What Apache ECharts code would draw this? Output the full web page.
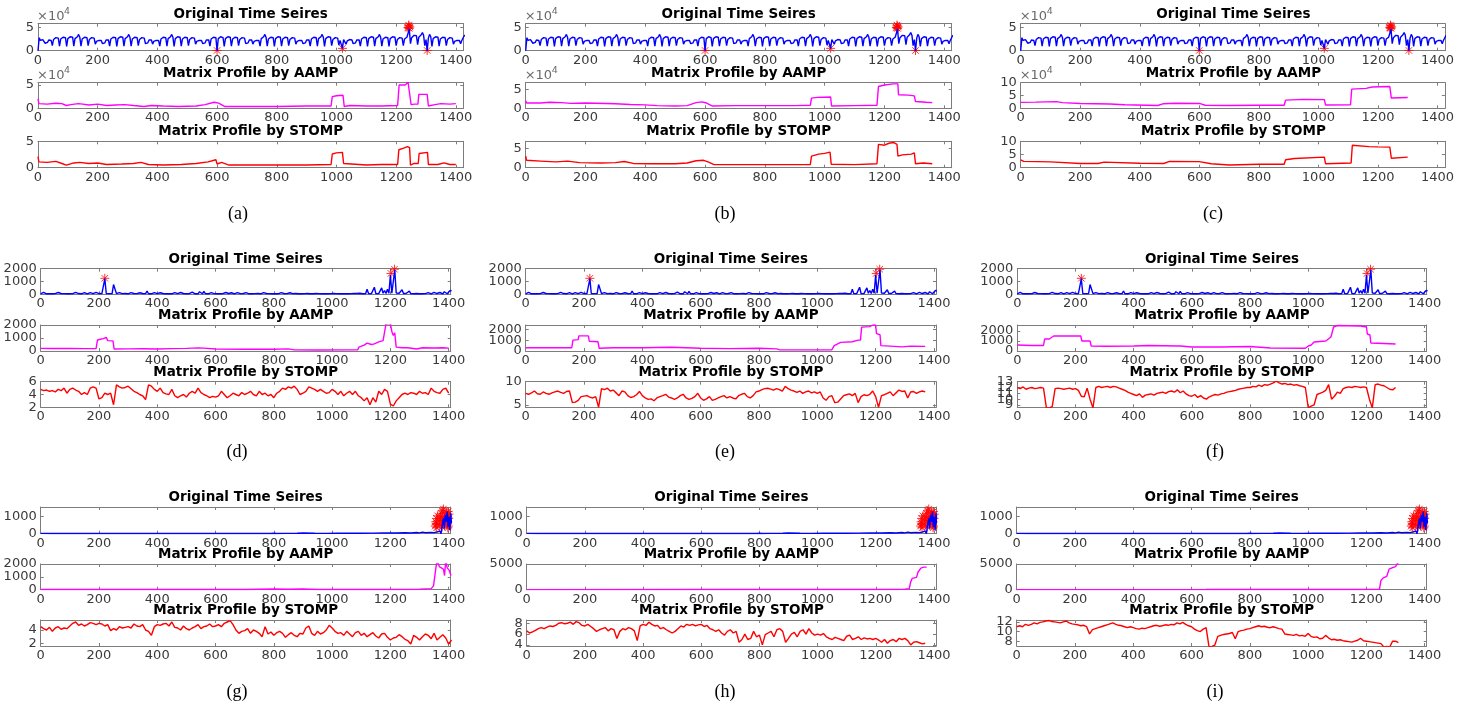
<!DOCTYPE html>
<html>
<head>
<meta charset="utf-8">
<script src="https://cdn.jsdelivr.net/npm/echarts@6/dist/echarts.min.js"></script>
<style>
html, body { margin: 0; padding: 0; background: #fff; }
#chart { width: 1457px; height: 704px; }
</style>
</head>
<body>
<div id="chart"></div>
<script>
// ---------- shared tick values ----------
const X_TICKS = [0, 200, 400, 600, 800, 1000, 1200, 1400];

// ---------- row 1: taxi-like series (units of 1e4), one value every 4 samples, 6 per day ----------
const taxiStep = 4;
const taxiValues = [
  0.0,2.8,2.2,2.0,2.4,2.1,  1.6,2.0,1.8,2.3,2.6,2.2,  1.1,2.4,2.1,2.8,3.2,2.7,  1.0,2.5,2.2,2.9,3.3,2.8,
  0.9,2.6,2.3,3.0,3.4,2.9,  1.0,2.6,2.2,3.0,3.5,2.9,  1.0,2.5,2.2,2.9,3.3,2.8,  1.1,2.4,2.1,2.8,3.2,2.7,
  1.4,2.0,1.8,2.2,2.5,2.2,  1.5,1.9,1.7,2.3,2.6,2.3,  1.0,2.5,2.2,2.9,3.3,2.8,  0.9,2.6,2.3,3.0,3.4,2.9,
  1.0,2.6,2.2,3.0,3.5,2.9,  1.0,2.5,2.2,2.9,3.3,2.8,  1.1,2.4,2.1,2.8,3.2,2.7,  1.5,1.9,1.7,2.3,2.6,2.3,
  1.4,2.0,1.8,2.2,2.5,2.2,  1.0,2.5,2.2,2.9,3.3,2.8,  1.0,2.6,2.2,3.0,3.5,2.9,  0.9,2.6,2.3,3.0,3.4,2.9,
  1.0,2.5,2.2,2.9,3.3,2.8,  1.1,2.4,2.1,2.8,3.2,2.7,  1.4,2.0,1.8,2.2,2.5,2.2,  1.5,1.9,1.7,2.3,2.6,2.3,
  1.0,2.5,2.2,2.9,3.3,2.8,  0.0,2.6,2.3,3.0,3.3,2.8,  0.9,2.6,2.3,3.0,3.4,2.9,  1.0,2.5,2.2,2.9,3.3,2.8,
  1.1,2.4,2.1,2.8,3.2,2.7,  1.5,1.9,1.7,2.3,2.6,2.3,  1.4,2.0,1.8,2.2,2.5,2.2,  1.0,2.6,2.2,3.0,3.5,2.9,
  1.0,2.5,2.2,2.9,3.3,2.8,  0.9,2.6,2.3,3.0,3.4,2.9,  1.0,2.5,2.2,2.9,3.3,2.8,  1.1,2.4,2.1,2.8,3.2,2.7,
  1.4,2.0,1.8,2.2,2.5,2.2,  1.5,1.9,1.7,2.3,2.6,2.3,  1.0,2.5,2.2,2.9,3.3,2.8,  1.0,2.6,2.2,3.0,3.5,2.9,
  0.9,2.6,2.3,3.0,3.4,2.9,  1.1,2.4,2.1,2.8,3.2,2.7,  1.2,2.2,2.0,0.5,2.4,2.2,  1.4,2.1,1.9,2.4,2.7,2.3,
  1.5,1.9,1.7,2.3,2.6,2.3,  1.0,2.5,2.2,2.9,3.3,2.8,  0.9,2.6,2.3,3.0,3.4,2.9,  1.0,2.6,2.2,3.0,3.5,2.9,
  1.0,2.5,2.2,2.9,3.3,2.8,  0.9,2.6,2.3,3.0,3.4,2.9,  1.1,2.4,2.1,2.8,3.2,2.7,  1.1,2.5,2.3,2.9,3.3,4.6,
  1.5,2.8,2.5,3.3,3.7,3.2,  1.3,2.9,2.6,3.4,3.9,3.3,  1.1,2.4,0.0,2.7,3.5,3.0,  0.9,2.6,2.3,3.0,3.4,2.9,
  1.0,2.5,2.2,2.9,3.3,2.8,  1.1,2.4,2.1,2.8,3.2,2.7,  1.4,2.0,1.8,2.2,2.5,2.2,  1.5,2.2,2.6,3.2,3.6,3.5
];
const taxiMarks = [[600, 0.05], [1020, 0.5], [1304, 0.05],
  [1240, 5.0], [1242, 5.5], [1244, 4.8], [1243, 5.3], [1246, 5.1], [1241, 4.9]];

const aampA = [[0,2.0],[3,1.0],[30,0.9],[60,1.1],[80,1.0],[95,0.6],[110,0.8],[135,1.0],[150,0.9],[170,0.7],[200,0.9],[230,0.6],[260,0.7],[290,0.8],[320,0.6],[355,0.4],[380,0.6],[420,0.5],[470,0.4],[530,0.5],[560,0.8],[590,1.3],[605,1.1],[625,0.4],[700,0.4],[800,0.4],[900,0.5],[982,0.5],[986,2.5],[1000,2.7],[1022,2.8],[1026,0.4],[1045,0.6],[1100,0.5],[1150,0.5],[1205,0.6],[1210,5.0],[1230,5.0],[1240,5.6],[1246,5.5],[1250,0.8],[1262,0.9],[1273,0.9],[1276,3.0],[1304,3.0],[1308,0.5],[1330,0.8],[1350,1.0],[1380,0.9],[1400,1.0]];
const stompA = [[0,2.1],[3,1.1],[30,1.0],[60,1.2],[80,0.8],[95,0.5],[120,0.9],[140,1.0],[170,0.8],[200,0.9],[230,0.6],[280,0.7],[320,0.8],[345,1.0],[370,0.6],[420,0.5],[480,0.6],[530,0.8],[570,1.1],[596,1.5],[600,0.7],[615,1.0],[640,0.5],[700,0.5],[800,0.5],[900,0.5],[982,0.6],[986,2.6],[1000,2.8],[1020,2.9],[1024,0.8],[1050,0.7],[1100,0.5],[1150,0.6],[1205,0.6],[1209,3.4],[1225,3.7],[1238,4.0],[1245,3.8],[1248,0.5],[1260,0.8],[1274,0.8],[1277,2.7],[1305,2.9],[1308,0.6],[1340,0.6],[1360,0.9],[1380,0.6],[1400,0.6]];
const aampB = [[0,2.0],[3,1.4],[50,1.4],[80,1.6],[120,1.5],[150,1.3],[200,1.4],[300,1.2],[350,1.0],[400,0.9],[440,0.7],[500,0.6],[540,0.7],[570,1.5],[590,1.7],[605,1.4],[625,0.6],[700,0.7],[800,0.7],[900,0.7],[952,0.8],[956,2.7],[975,2.9],[1020,3.0],[1023,0.6],[1100,0.7],[1175,0.8],[1180,5.8],[1200,6.2],[1230,6.5],[1245,6.5],[1247,3.6],[1280,3.5],[1300,3.3],[1304,1.8],[1340,1.6],[1360,1.5]];
const stompB = [[0,3.0],[3,1.9],[50,1.7],[100,1.5],[140,1.7],[180,1.3],[250,1.2],[300,1.3],[330,1.6],[360,1.1],[420,1.0],[500,1.0],[540,1.2],[570,1.8],[595,1.9],[610,1.5],[630,0.8],[700,0.8],[800,0.8],[900,0.8],[952,0.8],[956,3.0],[980,3.5],[1000,3.7],[1018,4.0],[1022,0.9],[1100,0.8],[1175,1.0],[1180,6.0],[1200,5.8],[1215,6.3],[1230,6.5],[1242,6.0],[1245,3.0],[1260,3.3],[1290,3.5],[1300,3.8],[1304,1.0],[1330,1.2],[1360,1.0]];
const aampC = [[0,2.3],[50,2.4],[120,2.6],[140,2.2],[145,1.8],[200,1.9],[300,1.7],[350,1.4],[460,1.1],[480,1.8],[520,2.0],[600,1.9],[620,1.2],[700,1.1],[800,1.2],[885,1.2],[890,3.2],[950,3.5],[1020,3.4],[1024,1.3],[1108,1.4],[1112,7.5],[1160,7.8],[1180,8.3],[1240,8.5],[1245,4.0],[1300,4.2]];
const stompC = [[0,3.0],[10,2.4],[100,2.2],[200,1.6],[260,1.6],[280,2.1],[400,1.7],[480,1.6],[500,2.4],[600,2.3],[640,1.5],[700,1.0],[800,1.3],[885,1.3],[890,3.0],[920,3.5],[1020,4.0],[1024,1.5],[1110,1.8],[1114,8.5],[1170,8.0],[1200,7.9],[1240,7.8],[1245,3.6],[1300,4.0]];

// ---------- row 2: spiky series, one value every 5 samples ----------
const spikeStep = 5;
const spikeValues = [
  40,60,150,50,40,120,40,60,40,130,50,40,140,40,60,40,50,130,40,60,
  40,130,50,40,150,40,60,140,40,50,130,40,40,60,130,40,50,40,150,40,
  60,40,50,80,1200,60,40,50,40,60,760,700,50,40,130,40,50,40,60,40,
  40,50,130,40,60,40,50,40,120,40,60,40,50,260,40,60,40,50,130,40,
  50,40,120,40,60,130,40,50,40,150,40,60,130,40,50,40,140,40,60,150,
  40,130,50,40,170,60,40,150,40,200,50,40,230,50,160,40,60,130,40,50,
  150,40,60,40,130,50,40,140,40,60,40,120,50,40,60,130,40,50,40,60,
  40,130,50,40,60,40,150,50,40,60,140,40,50,130,40,60,40,50,120,40,
  140,40,60,40,50,130,40,60,40,50,40,120,40,50,40,60,40,40,50,40,
  40,50,40,60,40,40,50,40,40,60,40,50,40,40,60,40,50,40,40,50,
  40,60,40,50,40,40,60,40,50,40,60,40,40,50,40,70,40,60,40,80,
  60,40,120,50,400,60,40,50,40,550,60,40,50,150,500,80,300,60,400,80,
  1500,80,60,1900,100,60,80,60,350,60,50,80,50,250,60,50,40,150,60,40,
  40,60,40,150,50,40,130,60,40,50,150,40,60,40,140,50,40,200,60,40,
  50,300,280
];
const spikeMarks = [[220, 1250], [1202, 1630], [1214, 1960]];

const aampD = [[0,200],[40,190],[100,200],[150,180],[190,190],[195,850],[205,900],[215,950],[220,1100],[225,1050],[230,800],[248,780],[252,150],[300,160],[350,170],[400,150],[450,180],[500,200],[540,240],[560,220],[600,150],[700,140],[800,140],[850,160],[870,90],[950,80],[1050,90],[1088,100],[1092,300],[1110,450],[1120,600],[1135,500],[1145,550],[1160,700],[1175,800],[1180,900],[1185,2100],[1200,2100],[1205,1500],[1210,1200],[1215,1400],[1220,300],[1240,250],[1260,250],[1290,150],[1310,250],[1350,230],[1380,250],[1400,220]];
const aampE = [[0,300],[100,300],[158,300],[162,1000],[180,1050],[182,1400],[215,1400],[218,900],[248,850],[252,250],[300,300],[400,300],[500,350],[600,250],[700,220],[800,250],[860,200],[870,120],[1000,100],[1050,120],[1058,500],[1080,800],[1120,850],[1140,1000],[1148,1000],[1152,2200],[1180,2250],[1190,2400],[1200,2400],[1203,1600],[1215,1500],[1218,500],[1250,450],[1290,380],[1320,450],[1370,430]];
const aampF = [[0,600],[50,550],[90,550],[94,1200],[110,1200],[125,1500],[218,1500],[222,1000],[250,1000],[254,500],[300,480],[400,500],[450,550],[500,530],[560,500],[600,400],[700,400],[800,450],[870,300],[990,280],[1000,500],[1010,600],[1020,900],[1060,1000],[1078,1400],[1084,1600],[1087,2400],[1100,2550],[1180,2500],[1200,2400],[1203,1700],[1212,1600],[1215,800],[1260,750],[1300,700]];

// STOMP profiles, one value every 10 samples
const stompStep = 10;
const stompD = [
  4.8,4.6,4.7,4.5,4.6,4.4,4.8,4.6,5.0,4.2, 4.8,5.0,4.7,4.5,4.0,4.3,4.0,5.0,5.2,5.0,
  3.3,3.5,4.2,4.0,4.2,2.4,5.5,5.2,5.0,5.1, 5.3,4.9,4.5,4.3,4.0,3.8,3.2,5.5,5.3,4.8,
  4.5,5.0,4.3,4.1,4.0,4.8,3.8,3.5,3.8,4.0, 3.6,4.2,4.5,4.2,5.0,4.3,4.0,3.8,3.5,3.7,
  3.6,3.8,4.5,4.0,3.5,3.8,4.2,4.0,3.8,4.3, 4.0,4.2,4.5,4.0,3.8,4.5,4.0,4.2,3.8,4.0,
  3.5,4.2,4.5,5.0,4.8,5.2,5.0,5.3,4.8,4.0, 4.2,4.5,5.2,5.0,4.8,4.5,4.8,4.5,4.2,4.3,
  4.8,4.5,4.0,4.5,3.8,4.2,4.5,4.0,4.5,3.8, 3.5,3.0,3.5,2.4,3.5,2.8,4.5,4.0,4.8,4.5,
  2.5,2.2,3.0,3.5,4.0,4.2,4.0,4.3,4.2,4.0, 4.5,4.2,4.3,4.0,5.0,4.5,4.3,4.2,4.8,5.0,
  4.2
];
const stompE = [
  7.5,7.3,7.6,8.0,7.4,7.3,7.8,7.5,7.3,7.6, 7.8,8.0,7.7,7.5,7.9,8.0,5.5,5.6,6.0,6.8,
  6.9,7.0,6.7,6.5,6.8,4.5,8.5,8.3,8.6,8.0, 8.2,7.6,7.0,8.0,7.8,7.0,6.6,6.8,7.2,7.9,
  7.0,6.5,6.2,6.3,5.9,6.5,6.8,7.0,7.3,6.7, 6.5,6.2,6.5,7.0,7.3,6.5,6.2,6.4,6.8,7.5,
  6.5,6.0,6.3,6.8,6.0,6.2,6.5,6.8,7.0,6.5, 6.8,6.5,6.3,7.0,7.3,7.5,6.8,6.5,7.0,7.8,
  8.0,8.3,8.5,8.6,8.4,8.2,8.5,8.3,8.0,9.0, 8.5,8.2,8.0,7.7,8.0,7.5,7.8,8.0,7.6,7.8,
  7.5,7.8,6.5,6.0,6.8,7.0,5.5,5.6,6.3,7.0, 7.2,7.4,7.0,7.5,5.5,6.8,7.2,7.0,7.3,8.0,
  6.8,4.5,7.0,7.2,7.5,7.8,7.0,7.6,8.2,7.9, 8.0,6.5,7.8,7.9,7.5,7.8,8.0,7.8
];
const stompF = [
  12.0,11.8,12.1,11.7,11.9,12.0,11.8,11.9,12.0,11.9, 8.5,8.5,8.7,11.8,11.9,11.8,11.7,11.8,11.9,11.7,
  11.8,11.5,10.5,10.4,11.9,10.0,8.5,12.0,12.2,12.0, 12.1,12.2,12.0,12.2,12.1,11.9,11.7,11.5,11.2,11.0,
  10.8,10.6,10.9,10.3,10.7,10.8,10.9,10.7,11.0,11.1, 11.2,11.0,11.3,11.4,11.2,11.6,11.1,11.4,10.9,10.6,
  10.5,10.8,10.3,10.6,10.2,10.0,10.4,10.6,10.8,10.7, 10.9,11.0,11.2,11.3,11.4,11.5,11.7,11.8,11.9,12.0,
  12.0,12.2,12.1,12.4,12.2,12.5,12.4,12.6,12.8,13.1, 12.8,12.6,12.7,12.5,12.6,12.4,12.5,12.3,12.2,12.0,
  8.5,8.8,9.0,10.8,11.0,11.2,11.5,12.5,10.0,10.5, 11.2,11.0,11.8,12.0,12.1,12.0,12.2,12.1,12.0,12.1,
  12.0,10.0,8.5,12.5,12.6,12.4,12.3,12.0,11.7,11.6, 12.0
];

// ---------- row 3: flat series with a burst at the end ----------
const burstSeries = [[0,20],[40,15],[80,18],[120,12],[160,15],[200,10],[240,14],[280,12],[320,15],[360,10],[400,12],[440,15],[480,10],[520,12],[560,14],[600,10],[640,12],[680,15],[720,12],[760,20],[790,15],[800,30],[810,15],[840,20],[880,25],[900,40],[905,20],[940,25],[980,20],[1020,25],[1060,30],[1100,25],[1140,35],[1180,40],[1220,45],[1250,55],[1270,40],[1290,70],[1300,50],[1310,90],[1320,60],[1340,80],[1350,60],[1360,100],[1365,70],[1370,150],[1374,0],[1378,500],[1382,900],[1385,300],[1388,1100],[1392,700],[1395,1300],[1398,400],[1401,1000],[1404,200],[1407,1200],[1410,600]];
const burstMarks = [[1354,450],[1356,700],[1358,900],[1360,600],[1362,1050],[1357,550],[1359,350],
  [1368,800],[1370,500],[1372,1000],[1374,1200],[1376,750],[1378,1350],[1380,950],[1382,1450],[1384,650],[1377,400],
  [1388,1100],[1390,850],[1392,1250],[1394,550],[1395,1000],[1396,700],[1398,1300],[1399,450],[1400,900],[1401,1150],[1397,350]];

const aampG = [[0,20],[700,20],[750,40],[800,50],[850,40],[900,50],[950,20],[1200,20],[1300,40],[1340,80],[1348,300],[1355,1500],[1360,2300],[1368,1800],[1375,1700],[1382,1600],[1386,1100],[1390,2300],[1395,1700],[1402,1500],[1408,1100]];
const aampH = [[0,20],[700,30],[800,60],[900,40],[1000,30],[1200,40],[1300,80],[1315,200],[1320,1500],[1325,2200],[1340,2400],[1345,3400],[1355,4200],[1365,4400],[1375,4400]];
const aampI = [[0,20],[650,30],[800,60],[900,50],[1000,40],[1150,50],[1245,100],[1250,1800],[1258,2300],[1270,2600],[1278,4000],[1290,4300],[1300,4500],[1305,5000],[1310,5100]];

const stompG = [
  4.5,4.2,4.0,4.4,3.8,4.3,4.5,4.1,4.3,4.2, 4.6,5.0,5.2,4.7,4.9,4.6,4.8,5.1,5.0,4.8,
  5.0,4.9,4.6,4.8,3.9,4.2,4.0,4.5,4.3,4.4, 4.5,4.3,4.9,4.6,4.5,4.8,4.0,3.8,3.2,4.5,
  4.8,4.7,4.9,5.0,4.6,5.2,4.4,4.3,4.0,4.6, 4.2,4.0,4.3,4.5,4.8,4.2,4.5,4.6,4.9,4.5,
  4.6,4.8,4.5,5.0,5.2,5.4,4.8,4.0,3.5,3.8, 3.9,4.2,3.5,4.0,3.8,3.5,3.0,4.5,3.4,3.7,
  3.2,3.6,3.8,3.5,2.9,3.3,3.6,3.2,3.0,3.5, 3.4,4.3,4.6,3.5,3.2,3.8,3.4,3.6,4.0,4.7,
  4.3,3.8,3.5,3.6,3.2,3.8,3.4,3.0,3.6,3.8, 3.2,3.5,3.0,3.3,3.6,3.1,2.8,3.4,3.5,2.9,
  2.5,2.8,2.9,3.3,3.0,2.6,2.4,1.9,3.2,2.9, 2.5,3.0,3.4,3.2,2.7,3.5,2.5,2.9,3.3,2.8,
  1.9,2.5
];
const stompH = [
  6.6,6.2,6.4,6.7,7.0,7.2,7.0,7.3,7.5,7.4, 7.6,8.0,8.1,7.9,8.0,8.2,7.8,8.3,8.1,7.6,
  7.5,7.8,7.4,7.0,6.5,6.8,7.0,7.2,6.6,7.0, 6.8,5.2,6.5,7.0,6.8,7.2,7.0,6.6,4.8,7.5,
  7.8,7.6,8.2,7.8,7.5,7.6,7.0,7.2,6.8,6.5, 6.2,6.5,7.0,7.5,7.3,7.8,7.6,7.8,7.5,7.7,
  7.8,7.4,7.6,7.0,6.8,6.5,6.8,6.2,5.8,6.5, 6.8,6.2,6.5,4.5,5.0,6.0,5.0,5.2,6.5,5.5,
  5.8,4.0,5.9,6.2,6.5,5.5,6.8,7.0,6.5,4.5, 5.2,6.0,6.3,5.5,6.5,6.8,6.0,7.0,6.2,5.8,
  6.0,5.8,6.1,5.5,5.2,5.0,5.4,5.2,5.0,4.8, 5.6,5.8,5.0,5.2,5.5,5.0,5.3,5.1,5.2,5.0,
  5.2,4.9,4.5,5.0,4.3,4.8,5.0,4.6,5.2,5.0, 5.2,4.8,4.0,4.5,4.6,4.4,4.2,4.3
];
const stompI = [
  11.0,11.2,11.0,11.5,11.3,11.5,11.8,11.6,11.9,12.0, 12.2,12.3,12.1,12.0,11.9,11.8,12.0,12.2,11.8,11.6,
  11.5,11.4,11.2,11.3,11.0,9.5,10.4,10.6,10.8,11.0, 11.2,11.4,11.6,11.8,11.5,11.3,11.2,11.0,10.8,11.0,
  10.8,10.6,10.5,10.7,10.6,10.8,11.0,11.2,11.3,11.1, 11.2,11.4,11.3,11.5,11.4,11.8,11.6,11.9,11.5,11.2,
  11.0,10.5,10.2,10.0,10.5,10.8,6.8,6.9,7.2,9.0, 9.2,9.4,9.5,9.6,9.8,8.5,10.0,10.2,10.3,10.5,
  10.6,10.8,11.0,11.2,11.0,11.1,10.9,10.8,11.0,10.8, 10.6,10.5,9.5,9.4,9.3,9.2,9.4,9.1,9.2,9.0,
  9.6,9.0,8.8,8.9,8.5,8.6,9.2,8.7,8.3,8.4, 8.2,8.3,8.1,8.0,7.9,7.8,8.0,8.2,8.6,8.1,
  8.0,7.9,7.8,7.7,7.6,7.5,6.8,6.9,6.8,8.0, 8.0,7.7
];

// ---------- drawing ----------
const BLUE = '#0000ff', MAGENTA = '#ff00ff', RED = '#ff0000';
const AXIS_GRAY = '#7d7d7d', LABEL_GRAY = '#3a3a3a';
const FONT = '"DejaVu Sans", sans-serif';

const stepped = (vals, step) => vals.map((v, i) => [i * step, v]);

const TITLES = ['Original Time Seires', 'Matrix Profile by AAMP', 'Matrix Profile by STOMP'];
const rowsY = [
  { plots: [[23.7, 50.7], [82.7, 108.3], [141.3, 167.7]], caption: 214 },
  { plots: [[268.7, 294.3], [325, 351], [381.7, 407.3]], caption: 452 },
  { plots: [[507, 533.7], [564, 589.7], [620, 646]], caption: 692 }
];

const row1Y = { min: 0, max: 5.8, ticks: [0, 5] };
const panels = [
  { tag: '(a)', row: 0, L: 38, R: 463.3, xmax: 1425, capX: 238, sci: [true, true],
    plots: [
      { data: stepped(taxiValues, taxiStep), color: BLUE, marks: taxiMarks, y: row1Y },
      { data: aampA, color: MAGENTA, y: { min: 0, max: 5.5, ticks: [0, 5] } },
      { data: stompA, color: RED, y: { min: 0, max: 5, ticks: [0, 5] } } ] },
  { tag: '(b)', row: 0, L: 525.7, R: 951.7, xmax: 1425, capX: 725, sci: [true, true],
    plots: [
      { data: stepped(taxiValues, taxiStep), color: BLUE, marks: taxiMarks, y: row1Y },
      { data: aampB, color: MAGENTA, y: { min: 0, max: 6.8, ticks: [0, 5] } },
      { data: stompB, color: RED, y: { min: 0, max: 6.8, ticks: [0, 5] } } ] },
  { tag: '(c)', row: 0, L: 1020.7, R: 1446, xmax: 1425, capX: 1213, sci: [true, true],
    plots: [
      { data: stepped(taxiValues, taxiStep), color: BLUE, marks: taxiMarks, y: row1Y },
      { data: aampC, color: MAGENTA, y: { min: 0, max: 10, ticks: [0, 5, 10] } },
      { data: stompC, color: RED, y: { min: 0, max: 10, ticks: [0, 5, 10] } } ] },
  { tag: '(d)', row: 1, L: 40.7, R: 450.7, xmax: 1407, capX: 237,
    plots: [
      { data: stepped(spikeValues, spikeStep), color: BLUE, marks: spikeMarks, y: { min: 0, max: 2000, ticks: [0, 1000, 2000] } },
      { data: aampD, color: MAGENTA, y: { min: 0, max: 2000, ticks: [0, 1000, 2000] } },
      { data: stepped(stompD, stompStep), color: RED, y: { min: 2, max: 6, ticks: [2, 4, 6] } } ] },
  { tag: '(e)', row: 1, L: 525.7, R: 936, xmax: 1407, capX: 725,
    plots: [
      { data: stepped(spikeValues, spikeStep), color: BLUE, marks: spikeMarks, y: { min: 0, max: 2000, ticks: [0, 1000, 2000] } },
      { data: aampE, color: MAGENTA, y: { min: 0, max: 2400, ticks: [0, 1000, 2000] } },
      { data: stepped(stompE, stompStep), color: RED, y: { min: 4.5, max: 10, ticks: [5, 10] } } ] },
  { tag: '(f)', row: 1, L: 1017.3, R: 1426.7, xmax: 1407, capX: 1215,
    plots: [
      { data: stepped(spikeValues, spikeStep), color: BLUE, marks: spikeMarks, y: { min: 0, max: 2000, ticks: [0, 1000, 2000] } },
      { data: aampF, color: MAGENTA, y: { min: 0, max: 2600, ticks: [0, 1000, 2000] } },
      { data: stepped(stompF, stompStep), color: RED, y: { min: 8.6, max: 13, ticks: [9, 10, 11, 12, 13] } } ] },
  { tag: '(g)', row: 2, L: 40.7, R: 450.7, xmax: 1407, capX: 237,
    plots: [
      { data: burstSeries, color: BLUE, marks: burstMarks, y: { min: 0, max: 1570, ticks: [0, 1000] } },
      { data: aampG, color: MAGENTA, y: { min: 0, max: 2000, ticks: [0, 1000, 2000] } },
      { data: stepped(stompG, stompStep), color: RED, y: { min: 1.6, max: 5.5, ticks: [2, 4] } } ] },
  { tag: '(h)', row: 2, L: 526.7, R: 936, xmax: 1407, capX: 725,
    plots: [
      { data: burstSeries, color: BLUE, marks: burstMarks, y: { min: 0, max: 1570, ticks: [0, 1000] } },
      { data: aampH, color: MAGENTA, y: { min: 0, max: 5000, ticks: [0, 5000] } },
      { data: stepped(stompH, stompStep), color: RED, y: { min: 3.8, max: 8.6, ticks: [4, 6, 8] } } ] },
  { tag: '(i)', row: 2, L: 1016.7, R: 1426.7, xmax: 1407, capX: 1215,
    plots: [
      { data: burstSeries, color: BLUE, marks: burstMarks, y: { min: 0, max: 1570, ticks: [0, 1000] } },
      { data: aampI, color: MAGENTA, y: { min: 0, max: 5000, ticks: [0, 5000] } },
      { data: stepped(stompI, stompStep), color: RED, y: { min: 7, max: 12.4, ticks: [8, 10, 12] } } ] }
];

const ASTERISK = 'path://M0,-5L0,5M-5,0L5,0M-3.6,-3.6L3.6,3.6M-3.6,3.6L3.6,-3.6';

const grid = [], xAxis = [], yAxis = [], series = [], graphic = [];
const lineStyle = { color: AXIS_GRAY, width: 1 };
const labelStyle = { color: LABEL_GRAY, fontSize: 13, fontFamily: FONT };

// framed axis: line + inward ticks, labels optional
function addAxis(list, base, ticks, showLabels, position, margin) {
  list.push(Object.assign({
    type: 'value', position: position, offset: 0, scale: false,
    axisLine: { show: true, onZero: false, lineStyle: lineStyle },
    axisTick: { show: true, inside: true, length: 3, customValues: ticks, lineStyle: lineStyle },
    axisLabel: { show: showLabels, customValues: ticks, margin: margin,
      showMinLabel: true, showMaxLabel: true, hideOverlap: false,
      formatter: v => String(v), ...labelStyle },
    splitLine: { show: false }
  }, base));
}
// label-only axis carrying one tick label, so crowded small axes keep every label
function addLabelAxis(list, base, value, position, margin) {
  list.push(Object.assign({
    type: 'value', position: position, offset: 0, scale: false,
    axisLine: { show: false, onZero: false },
    axisTick: { show: false },
    axisLabel: { show: true, customValues: [value], margin: margin,
      showMinLabel: true, showMaxLabel: true, hideOverlap: false,
      formatter: v => String(v), ...labelStyle },
    splitLine: { show: false }
  }, base));
}

panels.forEach(p => {
  const rowGeom = rowsY[p.row];
  p.plots.forEach((pl, k) => {
    const [top, bottom] = rowGeom.plots[k];
    const gi = grid.length;
    grid.push({ left: p.L, top: top, width: p.R - p.L, height: bottom - top });
    const xb = { gridIndex: gi, min: 0, max: p.xmax };
    addAxis(xAxis, xb, X_TICKS, true, 'bottom', 3);
    const xi = xAxis.length - 1;
    addAxis(xAxis, xb, X_TICKS, false, 'top', 3);
    const yb = { gridIndex: gi, min: pl.y.min, max: pl.y.max };
    addAxis(yAxis, yb, pl.y.ticks, false, 'left', 4);
    const yi = yAxis.length - 1;
    addAxis(yAxis, yb, pl.y.ticks, false, 'right', 4);
    pl.y.ticks.forEach(v => addLabelAxis(yAxis, yb, v, 'left', 4));
    series.push({
      type: 'line', xAxisIndex: xi, yAxisIndex: yi, data: pl.data,
      showSymbol: false, symbol: 'none', clip: true, silent: true,
      lineStyle: { color: pl.color, width: 1.4 }
    });
    if (pl.marks) {
      series.push({
        type: 'scatter', xAxisIndex: xi, yAxisIndex: yi, data: pl.marks,
        symbol: ASTERISK, symbolSize: 9, clip: false, silent: true,
        itemStyle: { color: 'rgba(0,0,0,0)', borderColor: RED, borderWidth: 1 }
      });
    }
    // subplot title
    graphic.push({ type: 'text', x: (p.L + p.R) / 2, y: top - 9.5, silent: true,
      style: { text: TITLES[k], align: 'center', verticalAlign: 'middle',
        fontFamily: FONT, fontWeight: 'bold', fontSize: 13.5, fill: '#000' } });
    // exponent marker for the scaled axes
    if (p.sci && k < 2 && p.sci[k]) {
      graphic.push({ type: 'text', x: p.L - 1, y: top - 7.5, silent: true,
        style: { text: '×10', align: 'left', verticalAlign: 'middle', fontFamily: FONT, fontSize: 13, fill: '#6a6a6a' } });
      graphic.push({ type: 'text', x: p.L + 26, y: top - 12, silent: true,
        style: { text: '4', align: 'left', verticalAlign: 'middle', fontFamily: FONT, fontSize: 9.5, fill: '#6a6a6a' } });
    }
  });
  graphic.push({ type: 'text', x: p.capX, y: rowGeom.caption, silent: true,
    style: { text: p.tag, align: 'center', verticalAlign: 'middle',
      fontFamily: '"Liberation Serif", "Times New Roman", serif', fontSize: 18, fill: '#000' } });
});

const chart = echarts.init(document.getElementById('chart'), null, { renderer: 'canvas' });
chart.setOption({
  backgroundColor: '#ffffff',
  animation: false,
  grid, xAxis, yAxis, series, graphic
});
</script>
</body>
</html>
